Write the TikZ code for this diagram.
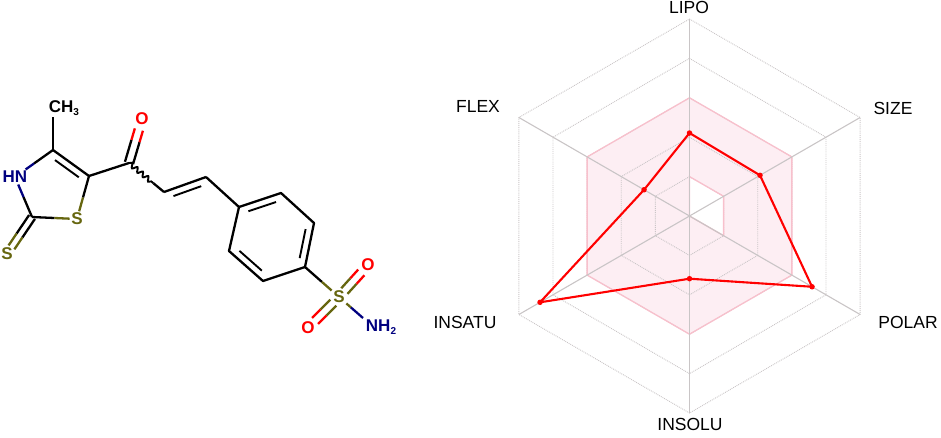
\documentclass[tikz,border=0pt]{standalone}
\usepackage{fontspec}
\setmainfont{Liberation Sans}
\usetikzlibrary{calc}
\usetikzlibrary{decorations.pathmorphing}
\definecolor{sulfur}{HTML}{66660F}
\definecolor{nitro}{HTML}{00007F}
\definecolor{bandfill}{HTML}{FDEEF3}
\definecolor{bandline}{HTML}{F8C0CC}
\definecolor{gridgray}{HTML}{C9C5C6}
\tikzset{
  bond/.style={line width=2.3pt, black},
  atom/.style={inner sep=1.5pt, font=\fontsize{17}{17}\selectfont\bfseries},
  axislabel/.style={inner sep=0pt, font=\fontsize{17.5}{17.5}\selectfont},
  griddot/.style={gridgray, line width=0.9pt, densely dotted},
  gridaxis/.style={gridgray, line width=1.1pt},
  radar/.style={red, line width=2.1pt, line join=round},
  dot/.style={circle, fill=red, inner sep=0pt, minimum size=5.5pt}
}
% ring double bond, drawn on the left of a -> b
\newcommand{\innerbond}[2]{\draw[bond, line width=1.9pt] ($(#1)!0.17!(#2)!7pt!90:(#2)$) -- ($(#2)!0.17!(#1)!7pt!-90:(#1)$);}
% two-coloured double bond: from, to, colours, half gap, gaps at the ends
\newcommand{\halfdouble}[7]{
  \coordinate (mid) at ($(#1)!.5!(#2)$);
  \draw[bond, #3] ($(#1)!#6pt!(#2)!#5pt!90:(#2)$) -- ($(mid)!#5pt!90:(#2)$);
  \draw[bond, #3] ($(#1)!#6pt!(#2)!#5pt!-90:(#2)$) -- ($(mid)!#5pt!-90:(#2)$);
  \draw[bond, #4] ($(mid)!#5pt!90:(#2)$) -- ($(#2)!#7pt!(#1)!#5pt!-90:(#1)$);
  \draw[bond, #4] ($(mid)!#5pt!-90:(#2)$) -- ($(#2)!#7pt!(#1)!#5pt!90:(#1)$);
}
\begin{document}
\begin{tikzpicture}[x=1pt, y=-1pt]
    \useasboundingbox (0,0) rectangle (941,437);

    % molecule
    \coordinate (c4) at (53,150);
    \coordinate (c5) at (89,176);
    \coordinate (c2) at (32,217);
    \coordinate (co) at (129,163);
    \coordinate (ch1) at (164,192);
    \coordinate (ch2) at (206,177);
    \coordinate (r1) at (239,207);
    \coordinate (r2) at (281,193);
    \coordinate (r3) at (314,223);
    \coordinate (r4) at (305,267);
    \coordinate (r5) at (263,281);
    \coordinate (r6) at (229,251);
    \coordinate (metop) at (53,117);
    \coordinate (n2end) at (363,318);
    \node(me)[atom, inner sep=0pt] at (64,108) {CH\raisebox{-3pt}{\fontsize{10}{10}\selectfont 3}};
    \node(nh)[atom, text=nitro] at (15,177) {HN};
    \node(s1)[atom, text=sulfur] at (77,219) {S};
    \node(s2)[atom, text=sulfur] at (7,254) {S};
    \node(o1)[atom, text=red] at (142,119) {O};
    \node(s3)[atom, text=sulfur] at (339,297) {S};
    \node(o2)[atom, text=red] at (368,265) {O};
    \node(o3)[atom, text=red] at (308,328) {O};
    \node(nh2)[atom, text=nitro] at (381,327) {NH\raisebox{-3pt}{\fontsize{10}{10}\selectfont 2}};

    \draw[bond] (c4) -- (metop);
    \draw[bond] (c4) -- (c5);
    \innerbond{c5}{c4}
    \draw[bond] (c5) -- (co);
    \draw[bond] (c4) -- ($(c4)!.5!(nh)$);
    \draw[bond, nitro] ($(c4)!.5!(nh)$) -- (nh);
    \draw[bond] (c2) -- ($(c2)!.5!(nh)$);
    \draw[bond, nitro] ($(c2)!.5!(nh)$) -- (nh);
    \draw[bond] (c5) -- ($(c5)!.5!(s1)$);
    \draw[bond, sulfur] ($(c5)!.5!(s1)$) -- (s1);
    \draw[bond] (c2) -- ($(c2)!.5!(s1)$);
    \draw[bond, sulfur] ($(c2)!.5!(s1)$) -- (s1);

    % exo C=S and C=O
    \halfdouble{c2}{s2}{black}{sulfur}{3.5}{0}{8}
    \halfdouble{co}{o1}{black}{red}{4.2}{0}{11}

    % wavy bond, then the chain
    \draw[bond, line width=1.9pt, decorate, decoration={snake, segment length=7pt, amplitude=2.2pt}] (co) -- ($(co)!.7!(ch1)$);
    \draw[bond] ($(co)!.7!(ch1)$) -- (ch1);
    \draw[bond] (ch1) -- (ch2);
    \innerbond{ch2}{ch1}
    \draw[bond] (ch2) -- (r1);

    % benzene ring
    \draw[bond, line join=round] (r1) -- (r2) -- (r3) -- (r4) -- (r5) -- (r6) -- cycle;
    \innerbond{r2}{r1}
    \innerbond{r4}{r3}
    \innerbond{r6}{r5}

    % sulfonamide
    \draw[bond] (r4) -- ($(r4)!.5!(s3)$);
    \draw[bond, sulfur] ($(r4)!.5!(s3)$) -- (s3);
    \draw[bond, sulfur] (s3) -- ($(s3)!.5!(n2end)$);
    \draw[bond, nitro] ($(s3)!.5!(n2end)$) -- (n2end);
    \halfdouble{s3}{o2}{sulfur}{red}{4.2}{8}{10}
    \halfdouble{s3}{o3}{sulfur}{red}{4.2}{8}{10}

    % radar grid
    \coordinate (c) at (689.5,216);
    \foreach \l in {1,...,5}{
      \foreach \i in {1,...,6}{
        \coordinate (h\l-\i) at ($(c)+({-150+60*\i}:{39.4*\l})$);
      }
    }
    \fill[bandfill, even odd rule] (h3-1) -- (h3-2) -- (h3-3) -- (h3-4) -- (h3-5) -- (h3-6) -- cycle
      (c) -- (h1-1) -- (h1-2) -- (h1-3) -- cycle;
    \foreach \l in {1,...,5}{
      \draw[griddot] (h\l-1) -- (h\l-2) -- (h\l-3) -- (h\l-4) -- (h\l-5) -- (h\l-6) -- cycle;
    }
    \draw[bandline, line width=1.3pt] (h3-1) -- (h3-2) -- (h3-3) -- (h3-4) -- (h3-5) -- (h3-6) -- cycle;
    \draw[bandline, line width=1.3pt] (c) -- (h1-1) -- (h1-2) -- (h1-3) -- cycle;
    \foreach \i in {1,...,6}{
      \draw[gridaxis] (c) -- (h5-\i);
    }

    % radar values
    \node(plipo)[dot] at ($(c)+(-90:83)$) {};
    \node(psize)[dot] at ($(c)+(-30:81.4)$) {};
    \node(ppolar)[dot] at ($(c)+(30:141.5)$) {};
    \node(pinsolu)[dot] at ($(c)+(90:62.7)$) {};
    \node(pinsatu)[dot] at ($(c)+(150:172.6)$) {};
    \node(pflex)[dot] at ($(c)+(210:52.5)$) {};
    \draw[radar] (plipo.center) -- (psize.center) -- (ppolar.center) -- (pinsolu.center) -- (pinsatu.center) -- (pflex.center) -- cycle;

    \node(lipo)[axislabel] at (689,7) {LIPO};
    \node(size)[axislabel] at (893,108) {SIZE};
    \node(polar)[axislabel] at (908,322) {POLAR};
    \node(insolu)[axislabel] at (690,424) {INSOLU};
    \node(insatu)[axislabel] at (465,322) {INSATU};
    \node(flex)[axislabel] at (478,106) {FLEX};
\end{tikzpicture}
\end{document}
